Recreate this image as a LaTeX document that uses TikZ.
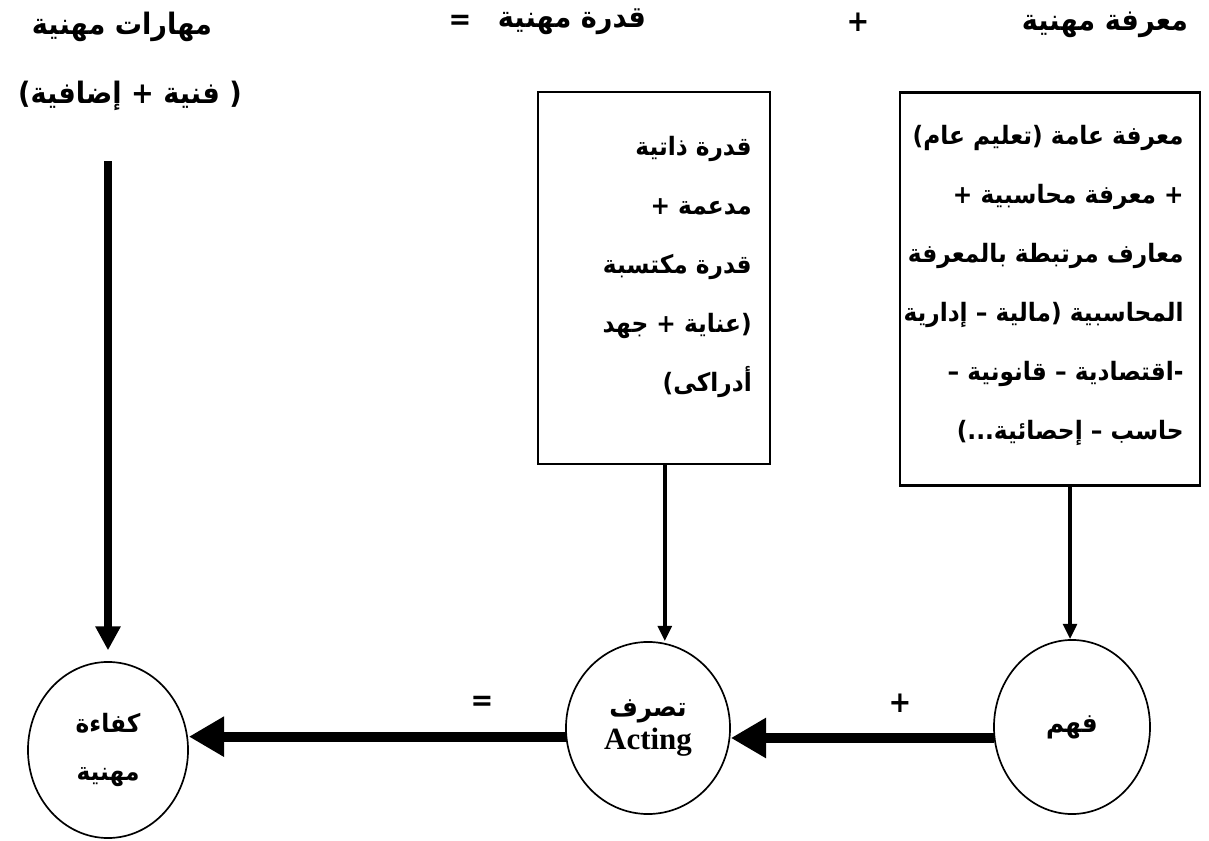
\documentclass[tikz,border=0pt]{standalone}
\usepackage{fontspec}
\usepackage{tikz}
\usetikzlibrary{arrows.meta,shapes.geometric}
\setmainfont{Liberation Serif}
\newfontfamily\arabicfont[Script=Arabic,FakeStretch=0.92]{DejaVu Sans}
\TeXXeTstate=1
\newcommand{\arline}[1]{\beginR #1\endR}

\begin{document}
\begin{tikzpicture}[x=0.025cm,y=0.025cm,
    title/.style={font=\arabicfont\bfseries\fontsize{21}{24}\selectfont,inner sep=0},
    boxtext/.style={font=\arabicfont\bfseries\fontsize{18}{42}\selectfont,align=right,inner sep=0,anchor=north east},
    frame/.style={draw,line width=1.6pt},
    ring/.style={draw,ellipse,line width=1.2pt,inner sep=0,align=center},
    thinarrow/.style={-{Triangle[length=0.38cm,width=0.34cm]},line width=2.6pt},
    fatarrow/.style={-{Triangle[length=0.88cm,width=0.95cm]},line width=7pt}]
    \useasboundingbox (0,0) rectangle (1209,841);

    % top row
    \node[title] (skill) at (122,814) {\arline{مهارات مهنية}};
    \node[title] (skilldet) at (130,745) {\arline{( فنية + إضافية)}};
    \node[title] (eqtop) at (460,819) {=};
    \node[title] (abiltitle) at (572,819) {\arline{قدرة مهنية}};
    \node[title] (plustop) at (858,819) {+};
    \node[title] (knowtitle) at (1105,816) {\arline{معرفة مهنية}};

    % boxes
    \node[frame,minimum width=5.8cm,minimum height=9.28cm] (abil) at (654,563) {};
    \node[boxtext] (abiltext) at (752,705) {\arline{قدرة ذاتية}\\\arline{مدعمة +}\\\arline{قدرة مكتسبة}\\\arline{(عناية + جهد}\\\arline{أدراكى)}};
    \node[frame,minimum width=7.5cm,minimum height=9.82cm] (know) at (1050,552) {};
    \node[boxtext] (knowtext) at (1184,716) {\arline{معرفة عامة (تعليم عام)}\\\arline{+ معرفة محاسبية +}\\\arline{معارف مرتبطة بالمعرفة}\\\arline{المحاسبية (مالية – إدارية}\\\arline{-اقتصادية – قانونية –}\\\arline{حاسب – إحصائية...)}};

    % circles
    \node[ring,minimum width=4cm,minimum height=4.4cm,font=\arabicfont\bfseries\fontsize{18}{34}\selectfont] (compe) at (108,91) {\arline{كفاءة}\\\arline{مهنية}};
    \node[ring,minimum width=4.1cm,minimum height=4.3cm] (act) at (648,113) {{\arabicfont\bfseries\fontsize{19}{22}\selectfont\arline{تصرف}}\\[2pt]{\bfseries\fontsize{22}{24}\selectfont Acting}};
    \node[ring,minimum width=3.9cm,minimum height=4.35cm,font=\arabicfont\bfseries\fontsize{19}{22}\selectfont] (und) at (1072,114) {\arline{فهم}};

    \node[title] (plusmid) at (900,138) {+};
    \node[title] (eqmid) at (482,138) {=};

    \draw[thinarrow] ([xshift=0.27cm]abil.south) -- ([xshift=0.27cm]abil.south |- act.north);
    \draw[thinarrow] ([xshift=0.5cm]know.south) -- ([xshift=0.5cm]know.south |- und.north);
    \draw[-{Triangle[length=0.6cm,width=0.6cm]},line width=5.5pt,shorten <=1.25cm,shorten >=0.27cm] (compe.north |- skilldet.south) -- (compe.north);
    \draw[fatarrow] (und.188) -- (und.188 -| act.east);
    \draw[fatarrow] (act.186) -- (act.186 -| compe.east);
\end{tikzpicture}
\end{document}
